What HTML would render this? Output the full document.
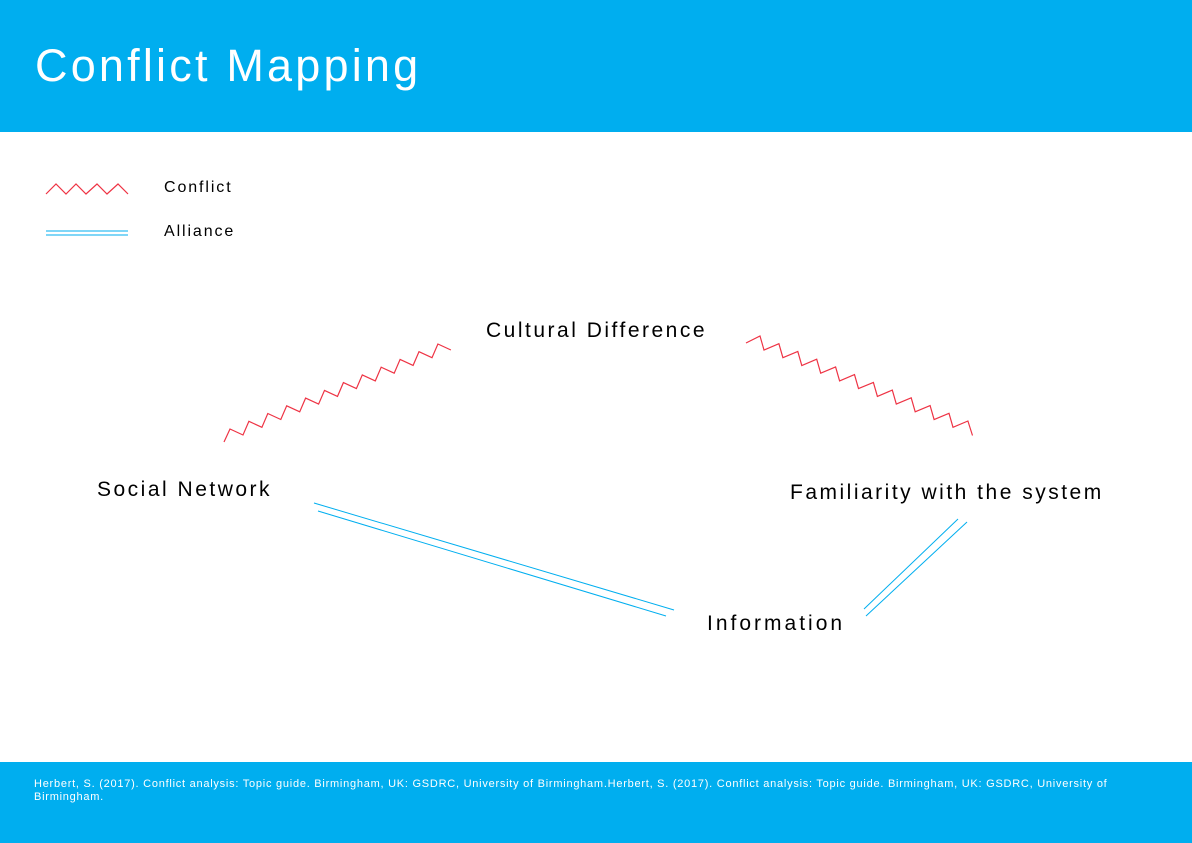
<!DOCTYPE html>
<html><head><meta charset="utf-8"><style>
body{margin:0;width:1192px;height:843px;position:relative;background:#fff;font-family:"Liberation Sans",sans-serif;overflow:hidden}
.hdr{position:absolute;left:0;top:0;width:1192px;height:132px;background:#00aeef}
.hdr h1{position:absolute;left:35px;top:40px;margin:0;font-weight:normal;color:#fff;font-size:45px;letter-spacing:3.2px}
.ftr{position:absolute;left:0;top:762px;width:1192px;height:81px;background:#00aeef;color:#fff;font-size:11px;line-height:13px;letter-spacing:0.75px}
.ftr div{position:absolute;left:34px;top:16px;width:1085px}
.t{position:absolute;font-size:21px;color:#000;white-space:nowrap;letter-spacing:2.5px}
.l{position:absolute;font-size:16px;color:#000;letter-spacing:1.9px}
</style></head><body>
<div class="hdr"><h1>Conflict Mapping</h1></div>
<svg width="1192" height="843" style="position:absolute;left:0;top:0" fill="none">
<polyline stroke="#ee3344" stroke-width="1.2" points="46,194 56,184 66,194 76,184 86,194 97,184 107,194 118,184 128,194"/>
<line x1="46" y1="231" x2="128" y2="231" stroke="#00aeef" stroke-width="1"/>
<line x1="46" y1="235" x2="128" y2="235" stroke="#00aeef" stroke-width="1"/>
<polyline stroke="#ee3344" stroke-width="1.2" points="224,442 230,429 243,435 248.9,421.3 261.9,427.3 267.8,413.5 280.8,419.5 286.7,405.8 299.7,411.8 305.6,398.1 318.6,404.1 324.5,390.4 337.5,396.4 343.4,382.6 356.4,388.6 362.3,374.9 375.3,380.9 381.2,367.2 394.2,373.2 400.1,359.4 413.1,365.4 419,351.7 432,357.7 437.9,344 450.9,350"/>
<polyline stroke="#ee3344" stroke-width="1.2" points="746,343 760,336 764,350 778.9,343.7 782.9,357.7 797.8,351.5 801.8,365.5 816.7,359.2 820.7,373.2 835.6,366.9 839.6,380.9 854.5,374.6 858.5,388.6 873.4,382.4 877.4,396.4 892.3,390.1 896.3,404.1 911.2,397.8 915.2,411.8 930.1,405.6 934.1,419.6 949,413.3 953,427.3 967.9,421 972.5,435.5"/>
<line x1="314" y1="503" x2="674" y2="610" stroke="#00aeef" stroke-width="1"/>
<line x1="318" y1="511" x2="666" y2="616" stroke="#00aeef" stroke-width="1"/>
<line x1="958" y1="519" x2="864" y2="609" stroke="#00aeef" stroke-width="1"/>
<line x1="967" y1="522" x2="866" y2="616" stroke="#00aeef" stroke-width="1"/>
</svg>
<div class="l" style="left:164px;top:179px">Conflict</div>
<div class="l" style="left:164px;top:223px">Alliance</div>
<div class="t" style="left:486px;top:319px">Cultural Difference</div>
<div class="t" style="left:97px;top:478px">Social Network</div>
<div class="t" style="left:790px;top:481px">Familiarity with the system</div>
<div class="t" style="left:707px;top:612px;letter-spacing:3px">Information</div>
<div class="ftr"><div>Herbert, S. (2017). Conflict analysis: Topic guide. Birmingham, UK: GSDRC, University of Birmingham.Herbert, S. (2017). Conflict analysis: Topic guide. Birmingham, UK: GSDRC, University of Birmingham.</div></div>
</body></html>
